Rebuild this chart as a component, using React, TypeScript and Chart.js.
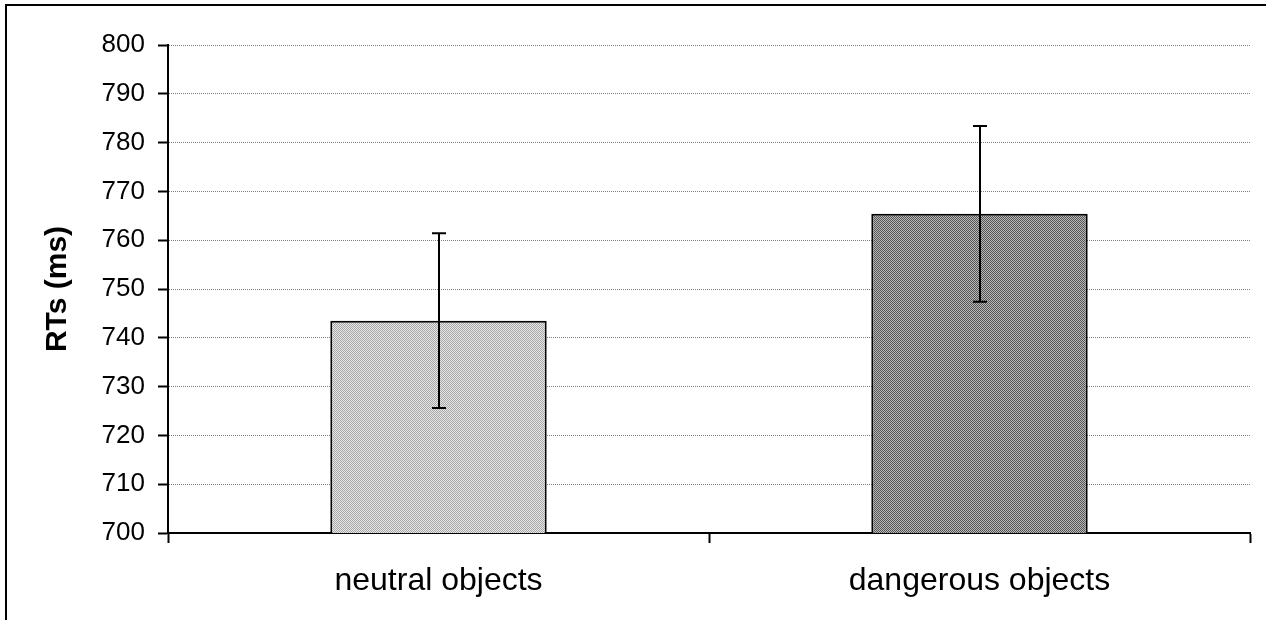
import React, { useEffect, useRef } from "react";
import { Chart, registerables } from "chart.js";

Chart.register(...registerables);

const categories = ["neutral objects", "dangerous objects"];
const meanRTs = [743.5, 765.4];
const errorRTs = [17.9, 18.0];
const yMin = 700;
const yMax = 800;
const yStep = 10;
const yTitle = "RTs (ms)";

function makePattern(c1: string, c2: string): CanvasPattern | string {
  const pc = document.createElement("canvas");
  pc.width = 2;
  pc.height = 2;
  const g = pc.getContext("2d");
  if (!g) return c1;
  g.fillStyle = c1;
  g.fillRect(0, 0, 2, 2);
  g.fillStyle = c2;
  g.fillRect(0, 0, 1, 1);
  g.fillRect(1, 1, 1, 1);
  const main = document.createElement("canvas").getContext("2d");
  const p = main ? main.createPattern(pc, "repeat") : null;
  return p || c1;
}

const framePlugin = {
  id: "frame",
  beforeDraw(chart: any) {
    const ctx = chart.ctx;
    ctx.save();
    ctx.fillStyle = "#000";
    ctx.fillRect(5, 4, chart.width - 5, 2);
    ctx.fillRect(5, 4, 2, chart.height - 4);
    ctx.restore();
  },
};

const errorBarPlugin = {
  id: "errorBars",
  afterDatasetsDraw(chart: any) {
    const ctx = chart.ctx;
    const meta = chart.getDatasetMeta(0);
    const y = chart.scales.y;
    ctx.save();
    ctx.strokeStyle = "#000";
    ctx.lineWidth = 2;
    meta.data.forEach((bar: any, i: number) => {
      const x = Math.round(bar.x);
      const hi = y.getPixelForValue(meanRTs[i] + errorRTs[i]);
      const lo = y.getPixelForValue(meanRTs[i] - errorRTs[i]);
      ctx.beginPath();
      ctx.moveTo(x, hi);
      ctx.lineTo(x, lo);
      ctx.moveTo(x - 7, hi);
      ctx.lineTo(x + 7, hi);
      ctx.moveTo(x - 7, lo);
      ctx.lineTo(x + 7, lo);
      ctx.stroke();
    });
    ctx.restore();
  },
};

export default function App() {
  const ref = useRef<HTMLCanvasElement | null>(null);
  useEffect(() => {
    if (!ref.current) return;
    const fills = [makePattern("#e6e6e6", "#a8a8a8"), makePattern("#b8b8b8", "#555555")];
    const chart = new Chart(ref.current, {
      type: "bar",
      data: {
        labels: categories,
        datasets: [
          {
            data: meanRTs,
            backgroundColor: fills as any,
            borderColor: "#000",
            borderWidth: 2,
            borderSkipped: false,
            categoryPercentage: 1,
            barPercentage: 0.4,
          },
        ],
      },
      options: {
        animation: false,
        responsive: true,
        maintainAspectRatio: false,
        layout: { padding: { left: 0, right: 16, top: 45, bottom: 0 } },
        plugins: { legend: { display: false }, tooltip: { enabled: false } },
        font: { family: "'Liberation Sans', Arial, sans-serif" },
        scales: {
          x: {
            offset: true,
            grid: {
              display: true,
              offset: true,
              drawOnChartArea: false,
              drawTicks: true,
              tickLength: 10,
              tickColor: "#000",
              tickWidth: 2,
            },
            border: { display: true, color: "#000", width: 2 },
            ticks: {
              color: "#000",
              padding: 19,
              font: { family: "'Liberation Sans', Arial, sans-serif", size: 32 },
            },
            afterFit: (s: any) => {
              s.height = 87;
            },
          },
          y: {
            min: yMin,
            max: yMax,
            grid: {
              color: "#808080",
              lineWidth: 1,
              drawTicks: true,
              tickLength: 10,
              tickColor: "#000",
              tickWidth: 2,
              tickBorderDash: [],
            },
            border: { display: true, color: "#000", width: 2, dash: [1, 1] },
            ticks: {
              stepSize: yStep,
              color: "#000",
              padding: 13,
              font: { family: "'Liberation Sans', Arial, sans-serif", size: 26 },
            },
            title: {
              display: true,
              text: yTitle,
              color: "#000",
              padding: { top: 40, bottom: 0 },
              font: { family: "'Liberation Sans', Arial, sans-serif", size: 30, weight: "bold" },
            },
            afterFit: (s: any) => {
              s.width = 168;
            },
          },
        },
      } as any,
      plugins: [framePlugin, errorBarPlugin],
    });
    return () => chart.destroy();
  }, []);
  return (
    <div style={{ position: "fixed", left: 0, top: 0, width: 1266, height: 620, background: "#fff" }}>
      <canvas ref={ref} />
    </div>
  );
}
